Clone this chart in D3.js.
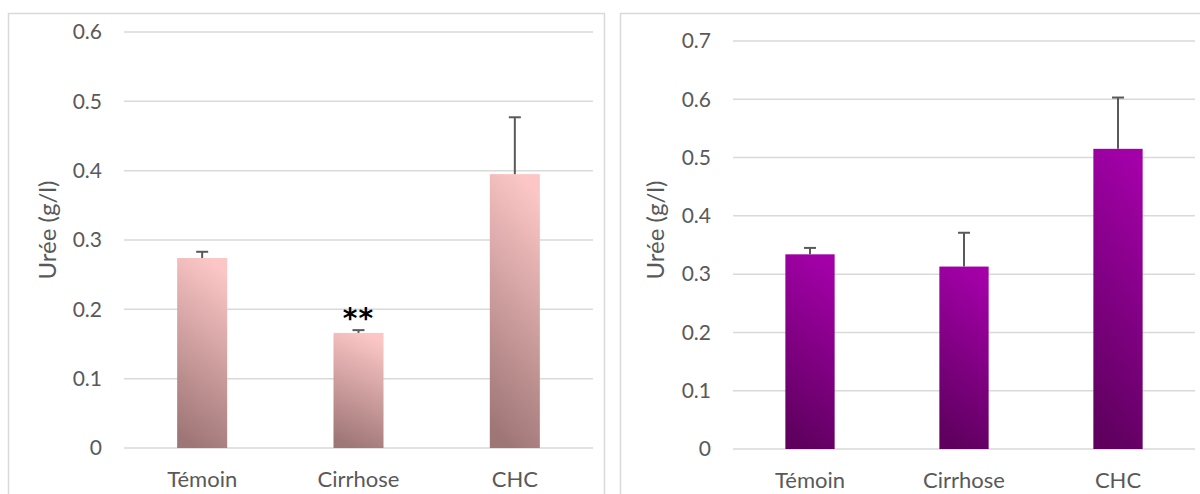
<!DOCTYPE html>
<html>
<head>
<meta charset="utf-8">
<script src="https://cdn.jsdelivr.net/npm/d3@7"></script>
<style>
  body { margin: 0; background: #fff; }
  svg { display: block; }
</style>
</head>
<body>
<svg width="1200" height="494"></svg>
<script>
(function() {
  var categories = ['Témoin', 'Cirrhose', 'CHC']

  // left chart
  var leftValues = [0.274, 0.166, 0.395]
  var leftErrors = [0.009, 0.004, 0.082]
  var leftTicks = [0, 0.1, 0.2, 0.3, 0.4, 0.5, 0.6]
  var leftStars = ['', '**', '']

  // right chart
  var rightValues = [0.334, 0.313, 0.515]
  var rightErrors = [0.011, 0.058, 0.088]
  var rightTicks = [0, 0.1, 0.2, 0.3, 0.4, 0.5, 0.6, 0.7]
  var rightStars = ['', '', '']

  var svg = d3.select('svg')
  var defs = svg.append('defs')

  function gradient(id, top, bottom) {
    var g = defs.append('linearGradient')
      .attr('id', id)
      .attr('x1', 0.6).attr('y1', 0)
      .attr('x2', 0.4).attr('y2', 1)
    g.append('stop').attr('offset', '0%').attr('stop-color', top)
    g.append('stop').attr('offset', '100%').attr('stop-color', bottom)
  }
  gradient('pink', '#fcc6c6', '#9f7676')
  gradient('purple', '#a300a8', '#5f005f')

  function drawChart(opt) {
    // panel border
    svg.append('rect')
      .attr('x', opt.box[0] + 0.5)
      .attr('y', 13.5)
      .attr('width', opt.box[1] - opt.box[0])
      .attr('height', 520)
      .attr('fill', 'none')
      .attr('stroke', '#d9d9d9')
      .attr('stroke-width', 1.5)

    var x = d3.scaleBand()
      .domain(categories)
      .range([opt.left, opt.right])

    var y = d3.scaleLinear()
      .domain([0, d3.max(opt.ticks)])
      .range([opt.bottom, opt.top])

    // gridlines
    svg.append('g')
      .selectAll('line')
      .data(opt.ticks)
      .enter().append('line')
        .attr('x1', opt.left)
        .attr('x2', opt.right)
        .attr('y1', function(d) { return y(d) })
        .attr('y2', function(d) { return y(d) })
        .attr('stroke', '#d9d9d9')
        .attr('stroke-width', 1.5)

    // y axis labels
    var yAxis = svg.append('g')
      .attr('transform', 'translate(' + (opt.left - 22) + ',0)')
      .call(d3.axisLeft(y).tickValues(opt.ticks).tickSize(0).tickPadding(0)
        .tickFormat(function(d) { return d === 0 ? '0' : d3.format('.1f')(d) }))
    yAxis.select('.domain').remove()
    yAxis.selectAll('text')
      .attr('font-family', 'Lato, "Open Sans", sans-serif')
      .attr('font-size', 21)
      .attr('fill', '#595959')

    // x axis labels
    var xAxis = svg.append('g')
      .attr('transform', 'translate(0,' + (opt.bottom + 23) + ')')
      .call(d3.axisBottom(x).tickSize(0).tickPadding(0))
    xAxis.select('.domain').remove()
    xAxis.selectAll('text')
      .attr('font-family', 'Lato, "Open Sans", sans-serif')
      .attr('font-size', 22)
      .attr('fill', '#595959')

    var barW = x.bandwidth() * 0.32

    // bars
    svg.append('g')
      .selectAll('rect')
      .data(opt.values)
      .enter().append('rect')
        .attr('x', function(d, i) { return x(categories[i]) + (x.bandwidth() - barW) / 2 })
        .attr('y', function(d) { return y(d) })
        .attr('width', barW)
        .attr('height', function(d) { return y(0) - y(d) })
        .attr('fill', 'url(#' + opt.fill + ')')

    // error bars
    var err = svg.append('g')
      .attr('stroke', '#595959')
      .attr('stroke-width', 2)
    opt.values.forEach(function(v, i) {
      var cx = x(categories[i]) + x.bandwidth() / 2
      err.append('line')
        .attr('x1', cx).attr('x2', cx)
        .attr('y1', y(v)).attr('y2', y(v + opt.errors[i]))
      err.append('line')
        .attr('x1', cx - 6).attr('x2', cx + 6)
        .attr('y1', y(v + opt.errors[i])).attr('y2', y(v + opt.errors[i]))
    })

    // significance stars
    svg.append('g')
      .selectAll('text')
      .data(opt.stars)
      .enter().append('text')
        .attr('x', function(d, i) { return x(categories[i]) + x.bandwidth() / 2 })
        .attr('y', function(d, i) { return y(opt.values[i] + opt.errors[i]) - 2 })
        .attr('text-anchor', 'middle')
        .attr('font-family', '"DejaVu Sans", sans-serif')
        .attr('font-weight', 'bold')
        .attr('font-size', 28)
        .attr('letter-spacing', 1)
        .attr('fill', '#000')
        .text(function(d) { return d })

    // y axis title
    svg.append('text')
      .attr('transform', 'translate(' + opt.titleX + ',' + 230 + ') rotate(-90)')
      .attr('text-anchor', 'middle')
      .attr('dominant-baseline', 'central')
      .attr('font-family', 'Lato, "Open Sans", sans-serif')
      .attr('font-size', 24)
      .attr('fill', '#595959')
      .text('Urée (g/l)')
  }

  drawChart({
    box: [8, 604],
    left: 124, right: 593, top: 32, bottom: 448,
    ticks: leftTicks, values: leftValues, errors: leftErrors, stars: leftStars,
    fill: 'pink', titleX: 46
  })

  drawChart({
    box: [620, 1220],
    left: 733, right: 1195, top: 41, bottom: 449,
    ticks: rightTicks, values: rightValues, errors: rightErrors, stars: rightStars,
    fill: 'purple', titleX: 654
  })
})();
</script>
</body>
</html>
